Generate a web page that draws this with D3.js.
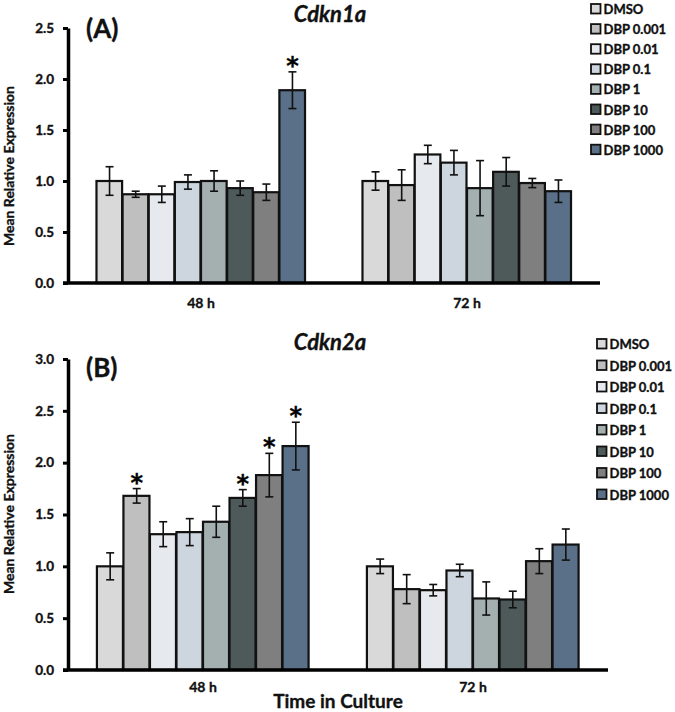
<!DOCTYPE html>
<html><head><meta charset="utf-8">
<script src="https://cdn.jsdelivr.net/npm/d3@7"></script>
<style>body{margin:0;background:#fff}svg{display:block}text{font-family:Lato,"Open Sans",sans-serif;font-weight:bold;stroke:#111;stroke-width:0.35px}</style>
</head><body><svg id="c" width="675" height="712"></svg>
<script>
const series = ["DMSO","DBP 0.001","DBP 0.01","DBP 0.1","DBP 1","DBP 10","DBP 100","DBP 1000"];
const times = ["48 h","72 h"];
const colors = ["#d9d9d9","#bfbfbf","#e6eaee","#cdd6df","#a4b0b0","#4e5a5a","#7f7f7f","#5a6f88"];

const cdkn1a48 = [1.00,0.87,0.87,0.99,1.00,0.93,0.89,1.89];
const cdkn1a48err = [0.14,0.03,0.08,0.07,0.10,0.07,0.08,0.18];
const cdkn1a72 = [1.00,0.96,1.26,1.18,0.93,1.09,0.98,0.90];
const cdkn1a72err = [0.09,0.15,0.09,0.12,0.27,0.14,0.045,0.11];
const cdkn1aSig48 = [0,0,0,0,0,0,0,1];
const cdkn1aSig72 = [0,0,0,0,0,0,0,0];
const cdkn1aTicks = [0,0.5,1.0,1.5,2.0,2.5];

const cdkn2a48 = [1.00,1.68,1.31,1.33,1.43,1.66,1.88,2.16];
const cdkn2a48err = [0.13,0.07,0.12,0.13,0.15,0.08,0.21,0.23];
const cdkn2a72 = [1.00,0.78,0.77,0.96,0.69,0.68,1.05,1.21];
const cdkn2a72err = [0.07,0.14,0.055,0.06,0.16,0.08,0.12,0.15];
const cdkn2aSig48 = [0,1,0,0,0,1,1,1];
const cdkn2aSig72 = [0,0,0,0,0,0,0,0];
const cdkn2aTicks = [0,0.5,1.0,1.5,2.0,2.5,3.0];

const svg = d3.select("#c");

function panel(o){
  const g = svg.append("g");
  const y = d3.scaleLinear().domain([0,o.ymax]).range([o.y0,o.y1]);
  const x0 = d3.scaleBand().domain(times).range([o.xl,o.xr]);
  const x1 = d3.scaleBand().domain(series).range([0,x0.bandwidth()]).paddingInner(0).paddingOuter(1.09);
  const data = [o.v48.map((v,i)=>({t:"48 h",s:series[i],v,e:o.e48[i],sig:o.s48[i],c:colors[i]})),
                o.v72.map((v,i)=>({t:"72 h",s:series[i],v,e:o.e72[i],sig:o.s72[i],c:colors[i]}))].flat();
  const cx = d=>x0(d.t)+x1(d.s)+x1.bandwidth()/2;
  g.selectAll("rect.bar").data(data).join("rect").attr("class","bar")
    .attr("x",d=>x0(d.t)+x1(d.s)).attr("width",x1.bandwidth()-0.5)
    .attr("y",d=>y(d.v)).attr("height",d=>y(0)-y(d.v))
    .attr("fill",d=>d.c).attr("stroke","#111").attr("stroke-width",2.2);
  const eb = g.selectAll("g.eb").data(data).join("g").attr("class","eb").attr("stroke","#111").attr("stroke-width",1.6);
  eb.append("line").attr("x1",cx).attr("x2",cx).attr("y1",d=>y(d.v+d.e)).attr("y2",d=>y(d.v-d.e));
  [1,-1].forEach(sgn=>{
    eb.append("line").attr("x1",d=>cx(d)-4).attr("x2",d=>cx(d)+4)
      .attr("y1",d=>y(d.v+sgn*d.e)).attr("y2",d=>y(d.v+sgn*d.e));
  });
  g.selectAll("text.sig").data(data.filter(d=>d.sig)).join("text").attr("class","sig")
    .attr("x",cx).attr("y",d=>y(d.v+d.e)+2)
    .attr("text-anchor","middle").attr("font-size",24).style("font-family","'DejaVu Sans'").text("*");
  const ya = g.append("g").attr("transform",`translate(${o.xl},0)`)
    .call(d3.axisLeft(y).tickValues(o.ticks).tickFormat(d3.format(".1f")).tickSize(5).tickSizeOuter(0));
  ya.select(".domain").attr("stroke","#000").attr("stroke-width",3.5);
  ya.selectAll(".tick line").attr("stroke","#000").attr("stroke-width",3);
  ya.selectAll(".tick text").attr("font-size",13.5).attr("font-family","Lato").attr("font-weight","bold").attr("fill","#111").attr("x",-14);
  const xa = g.append("g").attr("transform",`translate(0,${o.y0})`)
    .call(d3.axisBottom(x0).tickSize(0).tickSizeOuter(0));
  xa.select(".domain").attr("stroke","#000").attr("stroke-width",3.5).attr("d",`M${o.xl-5},0H${o.xr}`);
  xa.selectAll(".tick text").attr("font-size",14).attr("font-family","Lato").attr("font-weight","bold").attr("fill","#111").attr("dy",0).attr("y",o.xlabY);
  g.append("text").attr("transform",`translate(${o.ytx},${o.yty}) rotate(-90)`).attr("text-anchor","middle")
    .attr("font-size",14).attr("fill","#111").text("Mean Relative Expression");
  g.append("text").attr("x",86).attr("y",o.labY).attr("font-size",26).attr("fill","#111").text(o.label);
  g.append("text").attr("x",330).attr("y",o.titleY).attr("text-anchor","middle").attr("font-size",22).attr("font-style","italic").attr("fill","#111").text(o.title);
  const lg = g.selectAll("g.lg").data(series).join("g").attr("class","lg")
    .attr("transform",(d,i)=>`translate(${o.legX},${o.legY+i*o.legStep})`);
  lg.append("rect").attr("x",0).attr("y",-5).attr("width",9.5).attr("height",9.5)
    .attr("fill",(d,i)=>colors[i]).attr("stroke","#111").attr("stroke-width",1.8);
  lg.append("text").attr("x",12.5).attr("y",5).attr("font-size",13).attr("fill","#111").text(d=>d);
}

panel({ymax:2.5,y0:283,y1:28,xl:68,xr:600,ticks:cdkn1aTicks,
  v48:cdkn1a48,e48:cdkn1a48err,v72:cdkn1a72,e72:cdkn1a72err,s48:cdkn1aSig48,s72:cdkn1aSig72,
  xlabY:25,ytx:13.5,yty:166,label:"(A)",labY:38,title:"Cdkn1a",titleY:22,legX:591,legY:9,legStep:20.1});
panel({ymax:3.0,y0:670,y1:359,xl:68,xr:608,ticks:cdkn2aTicks,
  v48:cdkn2a48,e48:cdkn2a48err,v72:cdkn2a72,e72:cdkn2a72err,s48:cdkn2aSig48,s72:cdkn2aSig72,
  xlabY:22,ytx:13.5,yty:514,label:"(B)",labY:377,title:"Cdkn2a",titleY:350,legX:597,legY:344,legStep:21.5});

svg.append("text").attr("x",338).attr("y",708).attr("text-anchor","middle").attr("font-size",19).attr("fill","#111").text("Time in Culture");
</script></body></html>
